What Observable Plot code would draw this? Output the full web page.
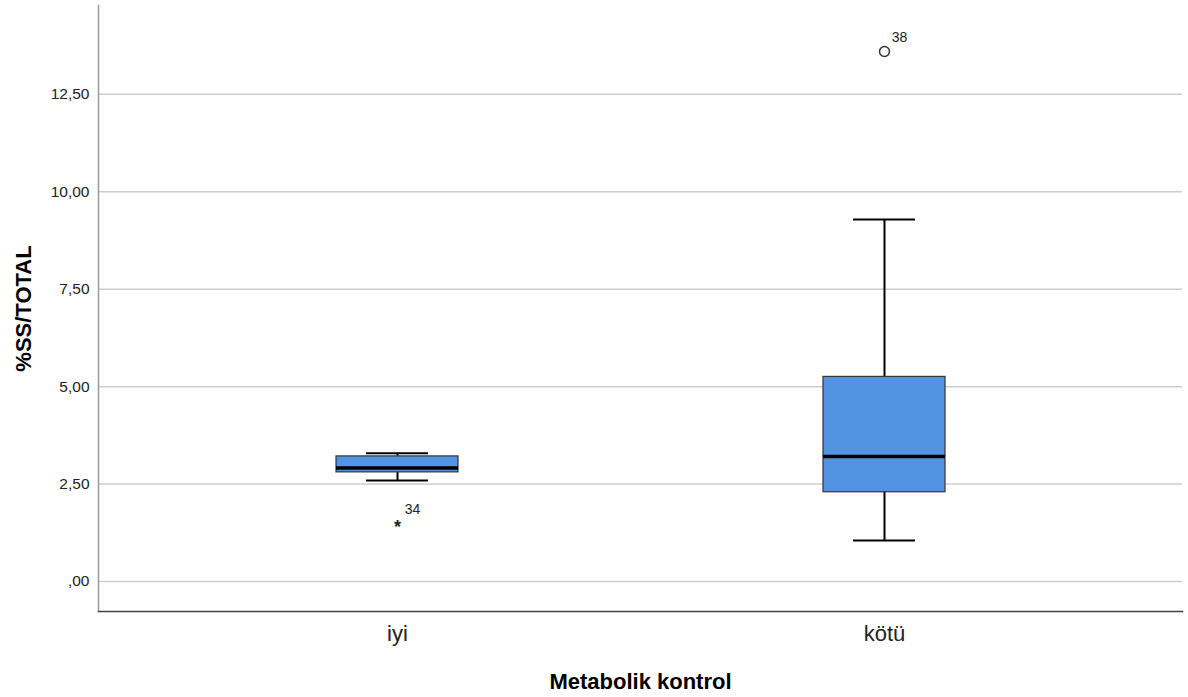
<!DOCTYPE html>
<html>
<head>
<meta charset="utf-8">
<script src="https://cdn.jsdelivr.net/npm/d3@7"></script>
<script src="https://cdn.jsdelivr.net/npm/@observablehq/plot@0.6"></script>
<style>
  html, body { margin: 0; padding: 0; background: #fff; }
  #chart svg { display: block; }
</style>
</head>
<body>
<div id="chart"></div>
<script>
// Data
const categories = ["iyi", "kötü"];
const whiskerLow  = [2.59, 1.05];
const q1          = [2.80, 2.29];
const median      = [2.91, 3.21];
const q3          = [3.21, 5.25];
const whiskerHigh = [3.29, 9.29];

const outlierCategory = ["iyi", "kötü"];
const outlierValue    = [1.50, 13.60];
const outlierLabel    = ["34", "38"];
const outlierKind     = ["extreme", "outlier"];

const yTicks = [0, 2.5, 5, 7.5, 10, 12.5];

const boxes = categories.map((c, i) => ({
  cat: c, lo: whiskerLow[i], q1: q1[i], med: median[i], q3: q3[i], hi: whiskerHigh[i]
}));
const outliers = outlierCategory.map((c, i) => ({
  cat: c, v: outlierValue[i], label: outlierLabel[i], kind: outlierKind[i]
}));

const fmt = d => {
  const s = d.toFixed(2).replace(".", ",");
  return s.startsWith("0,") ? s.slice(1) : s;
};

const font = "'Liberation Sans', Arial, sans-serif";

const chart = Plot.plot({
  width: 1188,
  height: 697,
  marginLeft: 98,
  marginRight: 6,
  marginTop: 5,
  marginBottom: 86,
  style: { fontFamily: font, background: "#fff", overflow: "visible" },
  x: {
    type: "band",
    domain: categories,
    range: [336, 945],
    paddingInner: 0.75,
    paddingOuter: 0,
    label: null
  },
  y: {
    domain: [-0.77, 14.78],
    label: null
  },
  marks: [
    // grid lines
    Plot.ruleY(yTicks, { stroke: "#cdcdcd", strokeWidth: 1.5 }),
    // left axis line
    Plot.frame({ anchor: "left", stroke: "#9a9a9a", strokeWidth: 1.5 }),
    // bottom axis line
    Plot.frame({ anchor: "bottom", stroke: "#444", strokeWidth: 1.5 }),
    Plot.axisY({
      ticks: yTicks, tickFormat: fmt, tickSize: 0, tickPadding: 9,
      fontSize: 15.5, fill: "#222", label: null
    }),
    Plot.axisX({
      tickSize: 0, tickPadding: 14, fontSize: 22, fill: "#222", label: null
    }),
    // whiskers
    Plot.ruleX(boxes, { x: "cat", y1: "lo", y2: "q1", stroke: "#000", strokeWidth: 2 }),
    Plot.ruleX(boxes, { x: "cat", y1: "q3", y2: "hi", stroke: "#000", strokeWidth: 2 }),
    Plot.tickY(boxes, { x: "cat", y: "lo", stroke: "#000", strokeWidth: 2, insetLeft: 30, insetRight: 30 }),
    Plot.tickY(boxes, { x: "cat", y: "hi", stroke: "#000", strokeWidth: 2, insetLeft: 30, insetRight: 30 }),
    // boxes
    Plot.barY(boxes, { x: "cat", y1: "q1", y2: "q3", fill: "#5294e2", stroke: "#333", strokeWidth: 1.2 }),
    // median
    Plot.tickY(boxes, { x: "cat", y: "med", stroke: "#000", strokeWidth: 3.5 }),
    // outliers
    Plot.dot(outliers.filter(d => d.kind === "outlier"), {
      x: "cat", y: "v", r: 5, stroke: "#333", strokeWidth: 1.5, fill: "none"
    }),
    Plot.text(outliers.filter(d => d.kind === "extreme"), {
      x: "cat", y: "v", text: () => "*", fontSize: 18, fill: "#222", dy: 4, fontWeight: "bold"
    }),
    Plot.text(outliers, {
      x: "cat", y: "v", text: "label", dx: 15, dy: -14, fontSize: 14, fill: "#222"
    }),
    // axis titles
    Plot.text(["Metabolik kontrol"], {
      frameAnchor: "bottom", dy: 70, lineAnchor: "middle", textAnchor: "middle",
      text: d => d, fontSize: 22, fontWeight: "bold", fill: "#000"
    }),
    Plot.text(["%SS/TOTAL"], {
      frameAnchor: "left", dx: -75, rotate: -90, textAnchor: "middle", lineAnchor: "middle",
      text: d => d, fontSize: 22, fontWeight: "bold", fill: "#000"
    })
  ]
});

document.getElementById("chart").appendChild(chart);
</script>
</body>
</html>
